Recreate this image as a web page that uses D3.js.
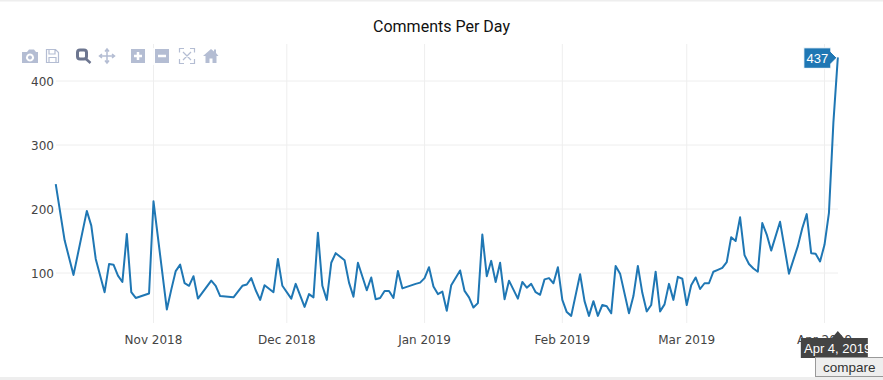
<!DOCTYPE html>
<html>

<head>
  <script src="https://d3js.org/d3.v7.min.js"></script>
  <style>
    html, body { margin: 0; padding: 0; background: #fff; }
    svg { display: block; }
  </style>
</head>

<body>
  <div id="chart"></div>

  <script>
    var chartTitle = "Comments Per Day";
    var dates = [
      "2018-10-10", "2018-10-12", "2018-10-14", "2018-10-17", "2018-10-18", "2018-10-19", "2018-10-21", "2018-10-22",
      "2018-10-23", "2018-10-24", "2018-10-25", "2018-10-26", "2018-10-27", "2018-10-28", "2018-10-31", "2018-11-01",
      "2018-11-04", "2018-11-05", "2018-11-06", "2018-11-07", "2018-11-08", "2018-11-09", "2018-11-10", "2018-11-11",
      "2018-11-14", "2018-11-15", "2018-11-16", "2018-11-19", "2018-11-21", "2018-11-22", "2018-11-23", "2018-11-24",
      "2018-11-25", "2018-11-26", "2018-11-28", "2018-11-29", "2018-11-30", "2018-12-02", "2018-12-03", "2018-12-05",
      "2018-12-06", "2018-12-07", "2018-12-08", "2018-12-09", "2018-12-10", "2018-12-11", "2018-12-12", "2018-12-14",
      "2018-12-15", "2018-12-16", "2018-12-17", "2018-12-19", "2018-12-20", "2018-12-21", "2018-12-22", "2018-12-23",
      "2018-12-24", "2018-12-25", "2018-12-26", "2018-12-27", "2018-12-30", "2018-12-31", "2019-01-01", "2019-01-02",
      "2019-01-03", "2019-01-04", "2019-01-05", "2019-01-06", "2019-01-07", "2019-01-09", "2019-01-10", "2019-01-11",
      "2019-01-12", "2019-01-13", "2019-01-14", "2019-01-15", "2019-01-16", "2019-01-17", "2019-01-18", "2019-01-19",
      "2019-01-20", "2019-01-22", "2019-01-23", "2019-01-24", "2019-01-25", "2019-01-26", "2019-01-27", "2019-01-28",
      "2019-01-29", "2019-01-30", "2019-01-31", "2019-02-01", "2019-02-02", "2019-02-03", "2019-02-05", "2019-02-06",
      "2019-02-07", "2019-02-08", "2019-02-09", "2019-02-10", "2019-02-11", "2019-02-12", "2019-02-13", "2019-02-14",
      "2019-02-16", "2019-02-17", "2019-02-18", "2019-02-19", "2019-02-20", "2019-02-21", "2019-02-22", "2019-02-23",
      "2019-02-24", "2019-02-25", "2019-02-26", "2019-02-27", "2019-02-28", "2019-03-01", "2019-03-02", "2019-03-03",
      "2019-03-04", "2019-03-05", "2019-03-06", "2019-03-07", "2019-03-08", "2019-03-09", "2019-03-10", "2019-03-11",
      "2019-03-12", "2019-03-13", "2019-03-14", "2019-03-15", "2019-03-16", "2019-03-17", "2019-03-18", "2019-03-19",
      "2019-03-20", "2019-03-22", "2019-03-24", "2019-03-26", "2019-03-27", "2019-03-28", "2019-03-29", "2019-03-30",
      "2019-03-31", "2019-04-01", "2019-04-02", "2019-04-03", "2019-04-04"
    ];
    var comments = [
      239, 151, 97, 197, 174, 122, 70, 114,
      113, 96, 86, 161, 70, 61, 68, 212,
      43, 74, 103, 113, 84, 80, 95, 60,
      88, 80, 64, 62, 80, 82, 92, 73,
      58, 81, 70, 122, 80, 60, 83, 47,
      67, 62, 163, 80, 58, 116, 131, 120,
      85, 63, 116, 73, 93, 59, 61, 72,
      72, 61, 103, 76, 83, 85, 92, 109,
      79, 67, 71, 41, 81, 104, 72, 62,
      46, 53, 160, 95, 119, 86, 116, 59,
      88, 60, 86, 77, 83, 70, 66, 90,
      92, 84, 109, 58, 39, 33, 98, 56,
      33, 56, 33, 50, 48, 37, 111, 99,
      37, 64, 111, 69, 40, 50, 102, 40,
      51, 83, 58, 94, 91, 50, 81, 93,
      75, 84, 84, 102, 105, 108, 117, 156,
      150, 187, 128, 114, 107, 102, 178, 160,
      135, 180, 99, 142, 170, 192, 131, 130,
      118, 144, 194, 335, 437
    ];
    var yTicks = [100, 200, 300, 400];
    var xTickDates = ["2018-11-01", "2018-12-01", "2019-01-01", "2019-02-01", "2019-03-01", "2019-04-01"];
    var xTickLabels = ["Nov 2018", "Dec 2018", "Jan 2019", "Feb 2019", "Mar 2019", "Apr 2019"];
    var hoverValue = "437";
    var hoverDate = "Apr 4, 2019";
    var compareLabel = "compare";

    var parseDay = d3.utcParse("%Y-%m-%d");
    var width = 883, height = 380;
    var plotTop = 44, plotBottom = 323;
    var tickFont = "'DejaVu Sans', sans-serif";
    var tipFont = "'Liberation Sans', Arial, sans-serif";

    var x = d3.scaleUtc()
      .domain([parseDay("2018-11-01"), parseDay("2019-04-01")])
      .range([153.5, 824.5]);
    var y = d3.scaleLinear()
      .domain([100, 400])
      .range([273, 81]);

    var svg = d3.select("#chart").append("svg")
      .attr("width", width)
      .attr("height", height);

    // card edges
    svg.append("rect").attr("x", 0).attr("y", 0).attr("width", width).attr("height", 1.5).attr("fill", "#eeeeee");
    svg.append("rect").attr("x", 0).attr("y", 377).attr("width", width).attr("height", 3).attr("fill", "#eeeeee");

    svg.append("text")
      .attr("x", 441.5).attr("y", 32)
      .attr("text-anchor", "middle")
      .style("font-family", "Roboto, sans-serif")
      .style("font-size", "16px")
      .attr("fill", "#111111")
      .text(chartTitle);

    // grid
    svg.append("g").selectAll("line").data(xTickDates).join("line")
      .attr("x1", function (d) { return x(parseDay(d)); })
      .attr("x2", function (d) { return x(parseDay(d)); })
      .attr("y1", plotTop).attr("y2", plotBottom)
      .attr("stroke", "#eeeeee").attr("stroke-width", 1);
    svg.append("g").selectAll("line").data(yTicks).join("line")
      .attr("x1", 56).attr("x2", 838)
      .attr("y1", function (d) { return y(d); })
      .attr("y2", function (d) { return y(d); })
      .attr("stroke", "#eeeeee").attr("stroke-width", 1);

    // tick labels
    svg.append("g").selectAll("text").data(yTicks).join("text")
      .attr("x", 54).attr("y", function (d) { return y(d) + 4.5; })
      .attr("text-anchor", "end")
      .style("font-family", tickFont).style("font-size", "12px")
      .attr("fill", "#444444")
      .text(function (d) { return d; });
    svg.append("g").selectAll("text").data(xTickLabels).join("text")
      .attr("x", function (d, i) { return x(parseDay(xTickDates[i])); })
      .attr("y", 344)
      .attr("text-anchor", "middle")
      .style("font-family", tickFont).style("font-size", "12px")
      .attr("fill", "#444444")
      .text(function (d) { return d; });

    // the series
    var line = d3.line()
      .x(function (d, i) { return x(parseDay(dates[i])); })
      .y(function (d) { return y(d); });
    svg.append("path")
      .datum(comments)
      .attr("fill", "none")
      .attr("stroke", "#1f77b4")
      .attr("stroke-width", 2)
      .attr("stroke-linejoin", "round")
      .attr("d", line);

    // hover label on the last point
    var lastX = x(parseDay(dates[dates.length - 1]));
    var lastY = y(comments[comments.length - 1]);
    var hover = svg.append("g").attr("transform", "translate(" + lastX + "," + lastY + ")");
    hover.append("path")
      .attr("d", "M-1,0.500 L-7,-5.500 V-9.500 H-34 V11 H-7 V6.500 Z")
      .attr("fill", "#1f77b4")
      .attr("stroke", "#ffffff").attr("stroke-width", 1);
    hover.append("text")
      .attr("x", -20.5).attr("y", 5.5)
      .attr("text-anchor", "middle")
      .style("font-family", tipFont).style("font-size", "13px")
      .attr("fill", "#ffffff")
      .text(hoverValue);

    // date label under the axis, its text runs past the right edge of the box
    svg.append("clipPath").attr("id", "date-clip")
      .append("rect").attr("x", 801).attr("y", 330).attr("width", 67).attr("height", 30);
    var dateTip = svg.append("g").attr("transform", "translate(" + lastX + ",0)");
    dateTip.append("path")
      .attr("d", "M-37,338 H-6 L0,331 L6,338 H30 V358 H-37 Z")
      .attr("fill", "#444444");
    svg.append("text")
      .attr("clip-path", "url(#date-clip)")
      .attr("x", 804).attr("y", 353)
      .style("font-family", tipFont).style("font-size", "13px")
      .attr("fill", "#ffffff")
      .text(hoverDate);

    // compare button
    svg.append("rect")
      .attr("x", 815.5).attr("y", 357.5).attr("width", 70).attr("height", 19)
      .attr("fill", "#eeeeee").attr("stroke", "#999999");
    svg.append("text")
      .attr("x", 823).attr("y", 372)
      .style("font-family", tipFont).style("font-size", "13.5px")
      .attr("fill", "#333333")
      .text(compareLabel);

    // toolbar
    var bar = svg.append("g");
    var idle = "#b4bdd3", active = "#6d7690";
    bar.append("rect").attr("x", 18).attr("y", 48).attr("width", 204).attr("height", 17)
      .attr("fill", "#ffffff").attr("fill-opacity", 0.8);
    // camera
    bar.append("path").attr("fill", idle).attr("fill-rule", "evenodd")
      .attr("d", "M22,52 h5 l2,-2.500 h5 l2,2.500 h2 v11 h-16 Z M30,53.500 a4,4 0 1 0 0.010,0 Z M30,55.500 a2,2 0 1 1 -0.010,0 Z");
    // floppy
    bar.append("path").attr("fill", "none").attr("stroke", idle).attr("stroke-width", 1.2)
      .attr("d", "M46.500,49.500 h9 l3,3 v10 h-12 Z M49,49.500 v4.500 h6 v-4.500 M49,62.500 v-5 h7 v5");
    // zoom (active)
    bar.append("rect").attr("x", 77.500).attr("y", 50).attr("width", 9).attr("height", 9).attr("rx", 2.500)
      .attr("fill", "none").attr("stroke", active).attr("stroke-width", 3);
    bar.append("path").attr("stroke", active).attr("stroke-width", 2.500).attr("d", "M85.500,58.500 L90.500,63");
    // pan
    bar.append("path").attr("fill", "none").attr("stroke", idle).attr("stroke-width", 1.5)
      .attr("d", "M107,49.500 V63 M100,56 H114 M105,51.500 L107,49 L109,51.500 M105,60.500 L107,63 L109,60.500 M102,54 L99.500,56 L102,58 M112,54 L114.500,56 L112,58");
    // plus and minus
    bar.append("rect").attr("x", 131).attr("y", 49).attr("width", 14).attr("height", 14).attr("fill", idle);
    bar.append("path").attr("stroke", "#ffffff").attr("stroke-width", 2.500).attr("d", "M134,56 H142 M138,52 V60");
    bar.append("rect").attr("x", 155).attr("y", 49).attr("width", 14).attr("height", 14).attr("fill", idle);
    bar.append("path").attr("stroke", "#ffffff").attr("stroke-width", 2.500).attr("d", "M158,56 H166");
    // autoscale
    bar.append("path").attr("fill", "none").attr("stroke", idle).attr("stroke-width", 1.2)
      .attr("d", "M179.500,52.500 V48.500 H184 M190,48.500 H194.500 V52.500 M194.500,59 V63.500 H190 M184,63.500 H179.500 V59 M183,52 L191,60 M191,52 L183,60");
    // home
    bar.append("path").attr("fill", idle)
      .attr("d", "M203,56 L211,49 L214,51.500 V49.500 H216 V53 L218.500,56 H216.500 V63 H212.500 V58.500 H209.500 V63 H205.500 V56 Z");
  </script>
</body>

</html>
